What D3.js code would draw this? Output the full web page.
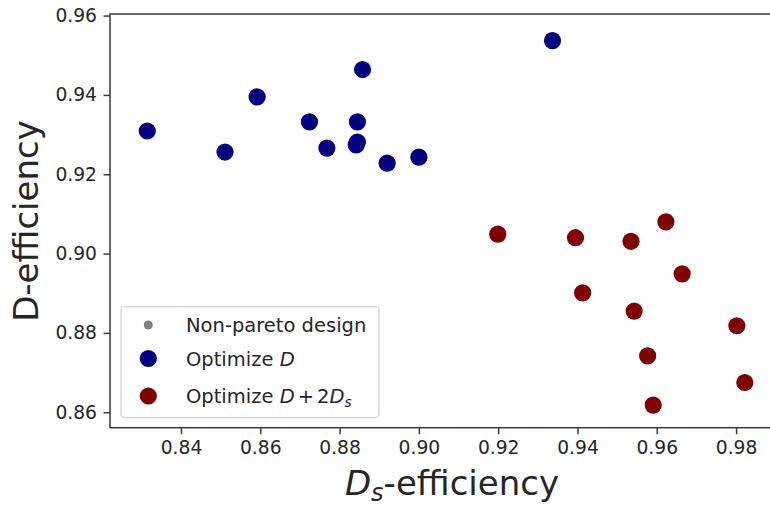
<!DOCTYPE html>
<html>
<head>
<meta charset="utf-8">
<script src="https://cdn.jsdelivr.net/npm/d3@7"></script>
<style>
  html, body { margin: 0; padding: 0; background: #fff; }
  svg { display: block; }
  text { font-family: "DejaVu Sans", sans-serif; }
</style>
</head>
<body>
<svg id="chart" width="770" height="506"></svg>
<script>
// ---- data ----
const optDx = [0.8315, 0.8511, 0.8592, 0.8724, 0.8768, 0.8845, 0.8842, 0.8845, 0.8858, 0.8920, 0.9000, 0.9337];
const optDy = [0.9309, 0.9256, 0.9395, 0.9332, 0.9266, 0.9332, 0.9274, 0.9281, 0.9464, 0.9228, 0.9243, 0.9537];
const optD2x = [0.9199, 0.9395, 0.9535, 0.9623, 0.9664, 0.9413, 0.9543, 0.9802, 0.9577, 0.9822, 0.9591];
const optD2y = [0.9049, 0.9040, 0.9031, 0.9080, 0.8949, 0.8901, 0.8855, 0.8818, 0.8742, 0.8675, 0.8618];
const nonParetoX = [];
const nonParetoY = [];
const xTicks = [0.84, 0.86, 0.88, 0.90, 0.92, 0.94, 0.96, 0.98];
const yTicks = [0.86, 0.88, 0.90, 0.92, 0.94, 0.96];
const xDomain = [0.8221, 0.9944];
const yDomain = [0.8561, 0.9604];
const legendLabels = ["Non-pareto design", "Optimize ", "Optimize "];

// ---- layout ----
const svg = d3.select("#chart");
const L = 110, T = 14, B = 427.7;
const x = d3.scaleLinear().domain(xDomain).range([L, L + (xDomain[1] - xDomain[0]) / 0.02 * 79.3]);
const y = d3.scaleLinear().domain(yDomain).range([B, T]);
const R = x.range()[1];

const textColor = "#262626";
const spineColor = "#3a3a3a";

// points
const g = svg.append("g");
const ptsD = optDx.map((v, i) => [v, optDy[i]]);
const ptsD2 = optD2x.map((v, i) => [v, optD2y[i]]);
const ptsNP = nonParetoX.map((v, i) => [v, nonParetoY[i]]);
g.selectAll("circle.np").data(ptsNP).enter().append("circle")
  .attr("cx", d => x(d[0])).attr("cy", d => y(d[1])).attr("r", 4.5).attr("fill", "#808080");
g.selectAll("circle.d").data(ptsD).enter().append("circle")
  .attr("cx", d => x(d[0])).attr("cy", d => y(d[1])).attr("r", 8.6).attr("fill", "#000080");
g.selectAll("circle.d2").data(ptsD2).enter().append("circle")
  .attr("cx", d => x(d[0])).attr("cy", d => y(d[1])).attr("r", 8.6).attr("fill", "#800000");

// axes
const xAxis = svg.append("g").attr("transform", `translate(0,${B})`)
  .call(d3.axisBottom(x).tickValues(xTicks).tickFormat(d3.format(".2f")).tickSize(6.5).tickPadding(6.5));
const yAxis = svg.append("g").attr("transform", `translate(${L},0)`)
  .call(d3.axisLeft(y).tickValues(yTicks).tickFormat(d3.format(".2f")).tickSize(6.5).tickPadding(6.5));
[xAxis, yAxis].forEach(a => {
  a.select(".domain").remove();
  a.selectAll(".tick line").attr("stroke", spineColor).attr("stroke-width", 1.5);
  a.selectAll(".tick text").attr("fill", textColor).style("font-size", "18.7px").style("font-family", "DejaVu Sans");
});

// spines
svg.append("rect").attr("x", L).attr("y", T).attr("width", R - L).attr("height", B - T)
  .attr("fill", "none").attr("stroke", spineColor).attr("stroke-width", 1.5);

// axis labels
const xl = svg.append("text").attr("x", 452).attr("y", 495).attr("text-anchor", "middle")
  .attr("fill", textColor).style("font-size", "34px");
xl.append("tspan").style("font-style", "italic").text("D");
xl.append("tspan").style("font-style", "italic").style("font-size", "24px").attr("dy", 6).text("s");
xl.append("tspan").attr("dy", -6).text("-efficiency");

svg.append("text").attr("transform", `translate(38,221) rotate(-90)`).attr("text-anchor", "middle")
  .attr("fill", textColor).style("font-size", "34px").text("D-efficiency");

// legend
const lg = svg.append("g");
lg.append("rect").attr("x", 121).attr("y", 306.7).attr("width", 258).attr("height", 111)
  .attr("rx", 4).attr("fill", "#fff").attr("fill-opacity", 0.8).attr("stroke", "#d0d0d0").attr("stroke-width", 1.2);
const rows = [
  { y: 325, color: "#808080", r: 4.5 },
  { y: 358.5, color: "#000080", r: 8.6 },
  { y: 396, color: "#800000", r: 8.6 }
];
rows.forEach((row, i) => {
  lg.append("circle").attr("cx", 148.3).attr("cy", row.y).attr("r", row.r).attr("fill", row.color);
  const t = lg.append("text").attr("x", 186).attr("y", row.y + 7).attr("fill", textColor).style("font-size", "19.5px");
  t.append("tspan").text(legendLabels[i]);
  if (i === 1) {
    t.append("tspan").style("font-style", "italic").text("D");
  } else if (i === 2) {
    t.append("tspan").style("font-style", "italic").text("D");
    t.append("tspan").attr("dx", 3).text("+");
    t.append("tspan").attr("dx", 3).text("2");
    t.append("tspan").style("font-style", "italic").text("D");
    t.append("tspan").style("font-style", "italic").style("font-size", "13.5px").attr("dy", 4).text("s");
  }
});
</script>
</body>
</html>
